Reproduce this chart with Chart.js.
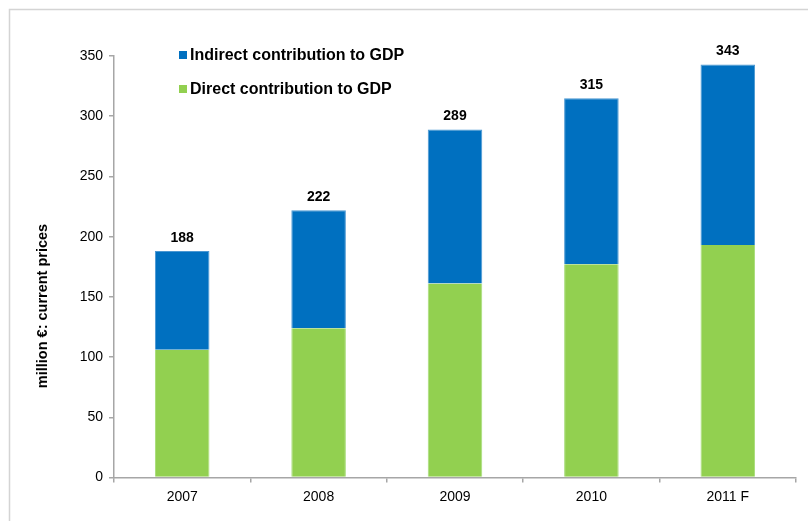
<!DOCTYPE html>
<html>
<head>
<meta charset="UTF-8">
<title>Contribution to GDP</title>
<script src="https://cdn.jsdelivr.net/npm/chart.js@4.4.1/dist/chart.umd.min.js"></script>
<style>
	html, body { margin: 0; padding: 0; background: #fff; }
	#wrap { width: 808px; height: 521px; }
</style>
</head>
<body>
	<div id="wrap"><canvas id="myChart" width="808" height="521"></canvas></div>
	<script>
	// values in million €, current prices
	var years = ['2007', '2008', '2009', '2010', '2011 F'];
	var direct = [106, 124, 161, 177, 193];
	var indirect = [82, 98, 128, 138, 150];
	var totals = [188, 222, 289, 315, 343];

	var FONT = "'Liberation Sans', Arial, sans-serif";
	var AXIS = '#a6a6a6';

	// thin frame around the whole chart (only top and left edges fall inside the canvas)
	var framePlugin = {
		id: 'frame',
		beforeDraw: function(chart) {
			var ctx = chart.ctx;
			ctx.save();
			ctx.strokeStyle = '#d4d4d4';
			ctx.lineWidth = 1.5;
			ctx.beginPath();
			ctx.moveTo(9.5, chart.height + 5);
			ctx.lineTo(9.5, 9.5);
			ctx.lineTo(chart.width + 5, 9.5);
			ctx.stroke();
			ctx.restore();
		}
	};

	// totals on top of each stack, axis title and the legend block
	var labelsPlugin = {
		id: 'extras',
		afterDraw: function(chart) {
			var ctx = chart.ctx;
			var x = chart.scales.x, y = chart.scales.y;
			ctx.save();
			ctx.fillStyle = '#000';
			ctx.font = 'bold 14px ' + FONT;
			ctx.textAlign = 'center';
			ctx.textBaseline = 'middle';
			totals.forEach(function(t, i) {
				ctx.fillText(String(t), x.getPixelForValue(i), y.getPixelForValue(t) - 13);
			});

			ctx.save();
			ctx.translate(43, 306);
			ctx.rotate(-Math.PI / 2);
			ctx.font = 'bold 14.5px ' + FONT;
			ctx.fillText('million €: current prices', 0, 0);
			ctx.restore();

			// legend, indirect first
			var items = [chart.data.datasets[1], chart.data.datasets[0]];
			ctx.font = 'bold 16px ' + FONT;
			ctx.textAlign = 'left';
			items.forEach(function(ds, k) {
				var cy = 55 + k * 34;
				ctx.fillStyle = ds.backgroundColor;
				ctx.fillRect(179, cy - 4, 8, 8);
				ctx.fillStyle = '#000';
				ctx.fillText(ds.label, 190, cy + 1);
			});
			ctx.restore();
		}
	};

	var ctx = document.getElementById('myChart').getContext('2d');
	var chart = new Chart(ctx, {
		type: 'bar',
		data: {
			labels: years,
			datasets: [{
				label: 'Direct contribution to GDP',
				data: direct,
				backgroundColor: '#92d050',
				borderColor: '#a6dc78',
				borderWidth: { left: 1, right: 1 },
				borderSkipped: false
			}, {
				label: 'Indirect contribution to GDP',
				data: indirect,
				backgroundColor: '#0070c0',
				borderColor: '#4a97d2',
				borderWidth: { left: 1, right: 1, top: 1 },
				borderSkipped: false
			}]
		},
		options: {
			responsive: false,
			animation: false,
			layout: { padding: { left: 0, top: 56, right: 12, bottom: 0 } },
			datasets: { bar: { categoryPercentage: 1, barPercentage: 0.4 } },
			plugins: { legend: { display: false }, tooltip: { enabled: false } },
			scales: {
				x: {
					stacked: true,
					afterFit: function(s) { s.height = 43.5; },
					border: { color: AXIS, width: 1.5 },
					grid: { offset: true, drawOnChartArea: false, tickLength: 5, color: AXIS, lineWidth: 1.5 },
					ticks: { color: '#000', font: { family: FONT, size: 14 }, padding: 6 }
				},
				y: {
					stacked: true,
					min: 0,
					max: 350,
					afterFit: function(s) { s.width = 114; },
					border: { color: AXIS, width: 1.5 },
					grid: { drawOnChartArea: false, tickLength: 5, color: AXIS, lineWidth: 1.5 },
					ticks: { stepSize: 50, color: '#000', font: { family: FONT, size: 14 }, padding: 6 }
				}
			}
		},
		plugins: [framePlugin, labelsPlugin]
	});
	</script>
</body>
</html>
